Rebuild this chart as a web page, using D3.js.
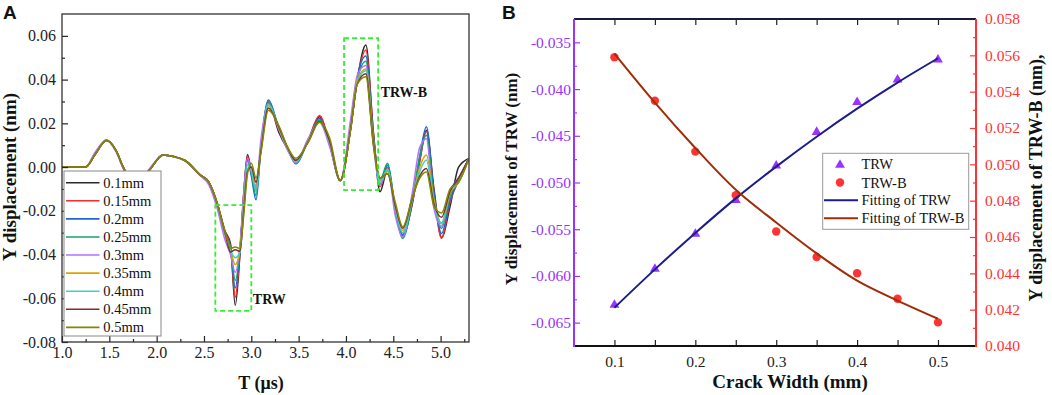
<!DOCTYPE html>
<html><head><meta charset="utf-8">
<script src="https://cdn.jsdelivr.net/npm/d3@7"></script>
<style>body{margin:0;background:#fff}svg{display:block}</style>
</head><body><svg id="c" width="1052" height="395"></svg>
<script>
// ---------- Panel A data ----------
const timeA = [1.00,1.25,1.35,1.47,1.57,1.65,1.78,1.92,2.07,2.18,2.30,2.46,2.55,2.64,2.72,2.78,2.83,2.88,2.92,2.96,3.00,3.05,3.10,3.18,3.29,3.38,3.47,3.60,3.72,3.83,3.94,4.05,4.12,4.21,4.29,4.36,4.44,4.52,4.60,4.70,4.78,4.85,4.93,5.01,5.10,5.19,5.30];
const seriesNames = ["0.1mm","0.15mm","0.2mm","0.25mm","0.3mm","0.35mm","0.4mm","0.45mm","0.5mm"];
const seriesColors = ["#2a2a2a","#ff2a2a","#1f66d6","#13a36a","#b470ff","#d9a400","#3cd0cc","#7e2f2f","#868600"];
const s010 = [0,0,0.0058,0.0124,0.0076,-0.0004,-0.0080,-0.0016,0.0055,0.0048,0.0030,-0.0036,-0.0068,-0.0165,-0.0290,-0.0350,-0.0632,-0.0400,-0.0120,0.0058,-0.0020,-0.0090,0.0080,0.0295,0.0160,0.0085,0.0030,0.0120,0.0230,0.0100,-0.0062,0.0180,0.0400,0.0558,0.0160,-0.0113,-0.0010,-0.0190,-0.0310,-0.0170,0.0030,0.0168,-0.0100,-0.0322,-0.0180,0.0000,0.0040];
const s015 = [0,0,0.0058,0.0123,0.0076,-0.0004,-0.0080,-0.0016,0.0055,0.0048,0.0030,-0.0036,-0.0069,-0.0168,-0.0295,-0.0360,-0.0595,-0.0390,-0.0130,0.0050,-0.0020,-0.0110,0.0080,0.0298,0.0170,0.0088,0.0028,0.0122,0.0236,0.0102,-0.0062,0.0180,0.0400,0.0535,0.0155,-0.0090,0.0000,-0.0190,-0.0315,-0.0165,0.0030,0.0162,-0.0120,-0.0326,-0.0160,-0.0060,0.0040];
const s020 = [0,0,0.0060,0.0122,0.0077,-0.0003,-0.0079,-0.0015,0.0055,0.0048,0.0030,-0.0036,-0.0070,-0.0170,-0.0300,-0.0370,-0.0553,-0.0380,-0.0140,0.0035,-0.0040,-0.0150,0.0080,0.0307,0.0180,0.0090,0.0015,0.0120,0.0222,0.0100,-0.0062,0.0182,0.0410,0.0508,0.0140,-0.0080,0.0010,-0.0190,-0.0310,-0.0160,0.0050,0.0184,-0.0120,-0.0304,-0.0150,-0.0060,0.0040];
const s025 = [0,0,0.0060,0.0122,0.0077,-0.0003,-0.0079,-0.0015,0.0055,0.0048,0.0030,-0.0036,-0.0070,-0.0172,-0.0305,-0.0370,-0.0518,-0.0380,-0.0150,0.0030,-0.0030,-0.0130,0.0085,0.0300,0.0180,0.0090,0.0020,0.0120,0.0215,0.0105,-0.0062,0.0185,0.0400,0.0484,0.0130,-0.0060,0.0017,-0.0185,-0.0326,-0.0155,0.0050,0.0145,-0.0140,-0.0280,-0.0130,-0.0060,0.0040];
const s030 = [0,0.0002,0.0068,0.0125,0.0070,-0.0010,-0.0082,-0.0010,0.0056,0.0047,0.0028,-0.0040,-0.0080,-0.0190,-0.0330,-0.0400,-0.0481,-0.0360,-0.0120,0.0040,-0.0020,-0.0100,0.0120,0.0290,0.0175,0.0080,0.0020,0.0130,0.0205,0.0090,-0.0060,0.0220,0.0420,0.0464,0.0100,-0.0080,-0.0010,-0.0220,-0.0320,-0.0120,0.0090,0.0130,-0.0190,-0.0270,-0.0110,-0.0050,0.0040];
const s035 = [0,0,0.0059,0.0122,0.0076,-0.0004,-0.0080,-0.0016,0.0055,0.0048,0.0030,-0.0036,-0.0069,-0.0168,-0.0300,-0.0380,-0.0446,-0.0380,-0.0170,-0.0005,-0.0010,-0.0090,0.0075,0.0280,0.0180,0.0090,0.0025,0.0118,0.0210,0.0108,-0.0062,0.0180,0.0400,0.0449,0.0120,-0.0060,-0.0020,-0.0185,-0.0290,-0.0150,0.0000,0.0055,-0.0150,-0.0260,-0.0120,-0.0070,0.0040];
const s040 = [0,0,0.0059,0.0122,0.0076,-0.0004,-0.0080,-0.0016,0.0055,0.0048,0.0030,-0.0036,-0.0069,-0.0168,-0.0300,-0.0380,-0.0415,-0.0390,-0.0180,0.0010,-0.0010,-0.0110,0.0075,0.0285,0.0180,0.0088,0.0022,0.0118,0.0205,0.0108,-0.0062,0.0178,0.0390,0.0440,0.0110,-0.0070,-0.0010,-0.0185,-0.0300,-0.0150,-0.0020,0.0032,-0.0170,-0.0255,-0.0110,-0.0070,0.0040];
const s045 = [0,0,0.0058,0.0121,0.0076,-0.0004,-0.0080,-0.0016,0.0055,0.0048,0.0030,-0.0036,-0.0068,-0.0166,-0.0295,-0.0388,-0.0378,-0.0385,-0.0200,-0.0020,0.0000,-0.0070,0.0070,0.0270,0.0185,0.0092,0.0030,0.0115,0.0210,0.0115,-0.0062,0.0175,0.0380,0.0427,0.0110,-0.0050,-0.0030,-0.0175,-0.0280,-0.0145,-0.0040,-0.0006,-0.0170,-0.0230,-0.0110,-0.0050,0.0040];
const s050 = [0,0,0.0058,0.0121,0.0076,-0.0004,-0.0080,-0.0016,0.0055,0.0048,0.0030,-0.0036,-0.0068,-0.0165,-0.0290,-0.0372,-0.0366,-0.0372,-0.0220,-0.0030,0.0017,-0.0050,0.0060,0.0260,0.0190,0.0095,0.0040,0.0112,0.0205,0.0130,-0.0062,0.0170,0.0380,0.0413,0.0100,-0.0050,-0.0030,-0.0160,-0.0273,-0.0140,-0.0050,-0.0022,-0.0180,-0.0210,-0.0100,-0.0070,0.0040];
const xTicksA = [1.0,1.5,2.0,2.5,3.0,3.5,4.0,4.5,5.0];
const xTickLabelsA = ["1.0","1.5","2.0","2.5","3.0","3.5","4.0","4.5","5.0"];
const xMinorA = [1.25,1.75,2.25,2.75,3.25,3.75,4.25,4.75,5.25];
const yTicksA = [-0.08,-0.06,-0.04,-0.02,0,0.02,0.04,0.06];
const yTickLabelsA = ["-0.08","-0.06","-0.04","-0.02","0.00","0.02","0.04","0.06"];
const yMinorA = [-0.07,-0.05,-0.03,-0.01,0.01,0.03,0.05];
// annotation boxes [t0, t1, yLow, yHigh] and labels
const boxTRW = [2.62, 3.0, -0.0658, -0.0174];
const boxTRWB = [3.98, 4.34, -0.0105, 0.0589];

// ---------- Panel B data ----------
const crackWidth = [0.1,0.15,0.2,0.25,0.3,0.35,0.4,0.45,0.5];
const trw = [-0.0631,-0.05925,-0.0555,-0.0519,-0.0482,-0.0446,-0.0414,-0.0390,-0.03685];
const trwB = [0.0559,0.0535,0.0507,0.0483,0.0463,0.0449,0.0440,0.0426,0.0413];
const trwFit = [-0.0634,-0.0593,-0.0554,-0.0517,-0.0483,-0.0451,-0.0421,-0.0393,-0.0367];
const trwBFit = [0.0561,0.0534,0.0509,0.0486,0.0468,0.0451,0.0436,0.0425,0.0415];
const xTicksB = [0.1,0.15,0.2,0.25,0.3,0.35,0.4,0.45,0.5];
const xTickLabelsB = ["0.1","","0.2","","0.3","","0.4","","0.5"];
const yTicksBL = [-0.065,-0.06,-0.055,-0.05,-0.045,-0.04,-0.035];
const yTickLabelsBL = ["-0.065","-0.060","-0.055","-0.050","-0.045","-0.040","-0.035"];
const yMinorBL = [-0.0625,-0.0575,-0.0525,-0.0475,-0.0425,-0.0375];
const yTicksBR = [0.040,0.042,0.044,0.046,0.048,0.050,0.052,0.054,0.056,0.058];
const yTickLabelsBR = ["0.040","0.042","0.044","0.046","0.048","0.050","0.052","0.054","0.056","0.058"];
const yMinorBR = [0.041,0.043,0.045,0.047,0.049,0.051,0.053,0.055,0.057];
const legendB = ["TRW","TRW-B","Fitting of TRW","Fitting of TRW-B"];

const purple = "#9933ff", red = "#ff3333", navy = "#1c1c8c", brown = "#a02c08";
const serif = "'Liberation Serif','Times New Roman',serif";

const svg = d3.select("#c");
svg.append("rect").attr("width",1052).attr("height",395).attr("fill","#fff");

// ================= Panel A =================
const xA = d3.scaleLinear([1.0,5.3],[62,469]);
const yA = d3.scaleLinear([-0.08,0.07],[342,14]);
const A = svg.append("g");

const lineA = d3.line().x(d=>xA(d[0])).y(d=>yA(d[1])).curve(d3.curveMonotoneX);
const allSeries = [s010,s015,s020,s025,s030,s035,s040,s045,s050];
const clip = svg.append("clipPath").attr("id","clipA").append("rect")
  .attr("x",xA(1.0)).attr("y",yA(0.07)).attr("width",xA(5.3)-xA(1.0)).attr("height",yA(-0.08)-yA(0.07));
const gl = A.append("g").attr("clip-path","url(#clipA)");
allSeries.forEach((s,i)=>{
  gl.append("path").datum(timeA.map((t,j)=>[t,s[j]]))
    .attr("d",lineA).attr("fill","none").attr("stroke",seriesColors[i])
    .attr("stroke-width",1.5).attr("stroke-linejoin","round");
});

// axes
function styleAxis(g,color,size){
  g.select(".domain").remove();
  g.selectAll(".tick line").attr("stroke",color).attr("stroke-width",1.2);
  g.selectAll(".tick text").attr("fill",color).style("font-family",serif).style("font-size",size+"px");
}
const axA_x = A.append("g").attr("transform","translate(0,342)")
  .call(d3.axisBottom(xA).tickValues(xTicksA).tickFormat((d,i)=>xTickLabelsA[i]).tickSize(-6).tickPadding(5));
styleAxis(axA_x,"#222",16);
const axA_xm = A.append("g").attr("transform","translate(0,342)")
  .call(d3.axisBottom(xA).tickValues(xMinorA).tickFormat("").tickSize(-3));
styleAxis(axA_xm,"#222",16);
const axA_y = A.append("g").attr("transform","translate(62,0)")
  .call(d3.axisLeft(yA).tickValues(yTicksA).tickFormat((d,i)=>yTickLabelsA[i]).tickSize(-6).tickPadding(6));
styleAxis(axA_y,"#222",16);
const axA_ym = A.append("g").attr("transform","translate(62,0)")
  .call(d3.axisLeft(yA).tickValues(yMinorA).tickFormat("").tickSize(-3));
styleAxis(axA_ym,"#222",16);
A.append("rect").attr("x",xA(1.0)).attr("y",yA(0.07)).attr("width",xA(5.3)-xA(1.0)).attr("height",yA(-0.08)-yA(0.07))
  .attr("fill","none").attr("stroke","#333").attr("stroke-width",1.3);

// annotation boxes
[[boxTRW,"TRW"],[boxTRWB,"TRW-B"]].forEach(([b,lab])=>{
  A.append("rect").attr("x",xA(b[0])).attr("y",yA(b[3])).attr("width",xA(b[1])-xA(b[0])).attr("height",yA(b[2])-yA(b[3]))
    .attr("fill","none").attr("stroke","#33ee33").attr("stroke-width",1.8).attr("stroke-dasharray","5,3");
});
A.append("text").attr("x",xA(boxTRW[1])+1.5).attr("y",yA(boxTRW[2])-7).text("TRW")
  .style("font-family",serif).style("font-weight","bold").style("font-size","14px").attr("fill","#111");
A.append("text").attr("x",xA(boxTRWB[1])+2.5).attr("y",97).text("TRW-B")
  .style("font-family",serif).style("font-weight","bold").style("font-size","14px").attr("fill","#111");

// legend A
const lgA = A.append("g");
lgA.append("rect").attr("x",64).attr("y",171).attr("width",97).attr("height",165)
  .attr("fill","#fff").attr("stroke","#888").attr("stroke-width",1);
seriesNames.forEach((n,i)=>{
  const y = 182.7 + i*18.08;
  lgA.append("line").attr("x1",66).attr("x2",99.5).attr("y1",y).attr("y2",y).attr("stroke",seriesColors[i]).attr("stroke-width",1.6);
  lgA.append("text").attr("x",103.3).attr("y",y).attr("dy","0.35em").text(n)
    .style("font-family",serif).style("font-size","14.5px").attr("fill","#111");
});

// axis titles A
A.append("text").attr("x",261).attr("y",389).attr("text-anchor","middle").text("T (μs)")
  .style("font-family",serif).style("font-weight","bold").style("font-size","18px").attr("fill","#111");
A.append("text").attr("transform","translate(16,177) rotate(-90)").attr("text-anchor","middle").text("Y displacement (nm)")
  .style("font-family",serif).style("font-weight","bold").style("font-size","19px").attr("fill","#111");
svg.append("text").attr("x",3).attr("y",19).text("A")
  .style("font-family","'Liberation Sans',Arial,sans-serif").style("font-weight","bold").style("font-size","19px").attr("fill","#111");

// ================= Panel B =================
const xB = d3.scaleLinear([0.05,0.547],[574,976]);
const yBL = d3.scaleLinear([-0.0675,-0.0325],[346,19]);
const yBR = d3.scaleLinear([0.040,0.058],[346,19]);
const B = svg.append("g");

// markers
const tri = d3.symbol().type(d3.symbolTriangle).size(42);
const circ = d3.symbol().type(d3.symbolCircle).size(56);
B.selectAll(".tri").data(crackWidth).join("path").attr("class","tri")
  .attr("transform",(d,i)=>`translate(${xB(d)},${yBL(trw[i])})`).attr("d",tri).attr("fill",purple);
B.selectAll(".circ").data(crackWidth).join("path").attr("class","circ")
  .attr("transform",(d,i)=>`translate(${xB(d)},${yBR(trwB[i])})`).attr("d",circ).attr("fill",red);
// fit lines
B.append("path").datum(crackWidth.map((c,i)=>[c,trwFit[i]]))
  .attr("d",d3.line().x(d=>xB(d[0])).y(d=>yBL(d[1])).curve(d3.curveCatmullRom))
  .attr("fill","none").attr("stroke",navy).attr("stroke-width",2);
B.append("path").datum(crackWidth.map((c,i)=>[c,trwBFit[i]]))
  .attr("d",d3.line().x(d=>xB(d[0])).y(d=>yBR(d[1])).curve(d3.curveCatmullRom))
  .attr("fill","none").attr("stroke",brown).attr("stroke-width",2);

// axes B
const axB_x = B.append("g").attr("transform","translate(0,346)")
  .call(d3.axisBottom(xB).tickValues(xTicksB).tickFormat((d,i)=>xTickLabelsB[i]).tickSize(-6).tickPadding(10));
styleAxis(axB_x,"#222",15.5);
const axB_t = B.append("g").attr("transform","translate(0,19)")
  .call(d3.axisTop(xB).tickValues(xTicksB).tickFormat("").tickSize(-6));
styleAxis(axB_t,"#222",15.5);
const axB_l = B.append("g").attr("transform","translate(574,0)")
  .call(d3.axisLeft(yBL).tickValues(yTicksBL).tickFormat((d,i)=>yTickLabelsBL[i]).tickSize(-6).tickPadding(3));
styleAxis(axB_l,purple,15.5);
const axB_lm = B.append("g").attr("transform","translate(574,0)")
  .call(d3.axisLeft(yBL).tickValues(yMinorBL).tickFormat("").tickSize(-3));
styleAxis(axB_lm,purple,15.5);
const axB_r = B.append("g").attr("transform","translate(976,0)")
  .call(d3.axisRight(yBR).tickValues(yTicksBR).tickFormat((d,i)=>yTickLabelsBR[i]).tickSize(-6).tickPadding(9));
styleAxis(axB_r,red,15.5);
const axB_rm = B.append("g").attr("transform","translate(976,0)")
  .call(d3.axisRight(yBR).tickValues(yMinorBR).tickFormat("").tickSize(-3));
styleAxis(axB_rm,red,15.5);
// frame lines
B.append("line").attr("x1",574).attr("x2",976).attr("y1",346).attr("y2",346).attr("stroke","#111").attr("stroke-width",2);
B.append("line").attr("x1",574).attr("x2",976).attr("y1",19).attr("y2",19).attr("stroke","#1a1a3a").attr("stroke-width",2);
B.append("line").attr("x1",574).attr("x2",574).attr("y1",19).attr("y2",347).attr("stroke",purple).attr("stroke-width",2);
B.append("line").attr("x1",976).attr("x2",976).attr("y1",19).attr("y2",347).attr("stroke",red).attr("stroke-width",2);

// legend B
const lgB = B.append("g");
lgB.append("rect").attr("x",822.7).attr("y",153.3).attr("width",146).attr("height",76)
  .attr("fill","#fff").attr("stroke","#999").attr("stroke-width",1);
const rowsB = [164,182.5,200.3,218.3];
lgB.append("path").attr("transform",`translate(840,${rowsB[0]+1})`).attr("d",tri).attr("fill",purple);
lgB.append("path").attr("transform",`translate(840,${rowsB[1]})`).attr("d",circ).attr("fill",red);
lgB.append("line").attr("x1",824).attr("x2",858).attr("y1",rowsB[2]).attr("y2",rowsB[2]).attr("stroke",navy).attr("stroke-width",2);
lgB.append("line").attr("x1",824).attr("x2",858).attr("y1",rowsB[3]).attr("y2",rowsB[3]).attr("stroke",brown).attr("stroke-width",2);
legendB.forEach((n,i)=>{
  lgB.append("text").attr("x",861.5).attr("y",rowsB[i]).attr("dy","0.35em").text(n)
    .style("font-family",serif).style("font-size","14.5px").attr("fill","#111");
});

// titles B
B.append("text").attr("x",790).attr("y",388).attr("text-anchor","middle").text("Crack Width (mm)")
  .style("font-family",serif).style("font-weight","bold").style("font-size","19px").attr("fill","#111");
B.append("text").attr("transform","translate(517,179) rotate(-90)").attr("text-anchor","middle").text("Y displacement of TRW (nm)")
  .style("font-family",serif).style("font-weight","bold").style("font-size","17px").attr("fill","#111");
B.append("text").attr("transform","translate(1042,178) rotate(-90)").attr("text-anchor","middle").text("Y displacement of TRW-B (nm),")
  .style("font-family",serif).style("font-weight","bold").style("font-size","18px").attr("fill","#111");
svg.append("text").attr("x",502).attr("y",19).text("B")
  .style("font-family","'Liberation Sans',Arial,sans-serif").style("font-weight","bold").style("font-size","19px").attr("fill","#111");
</script>
</body></html>
